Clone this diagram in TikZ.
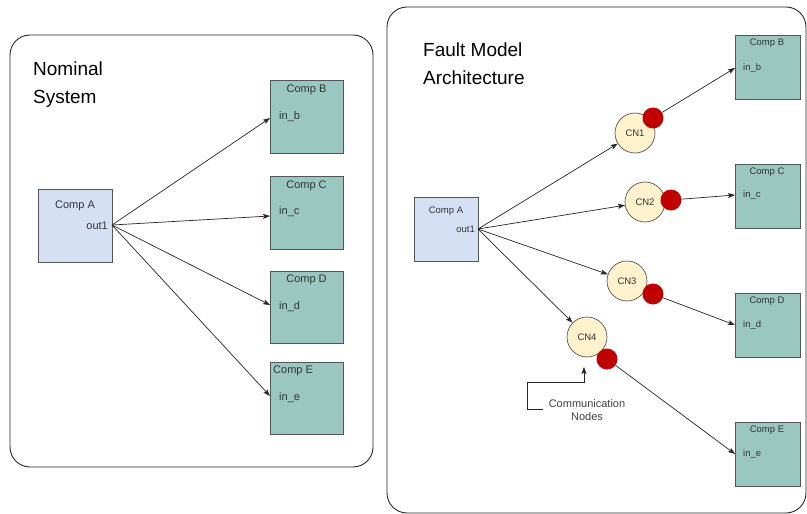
\documentclass[tikz,border=0pt]{standalone}
\usepackage{fontspec}
\setmainfont{Liberation Sans}
\usetikzlibrary{arrows.meta}
\definecolor{compblue}{HTML}{D4E1F5}
\definecolor{compteal}{HTML}{9AC7BF}
\definecolor{cnfill}{HTML}{FFF2CC}
\definecolor{reddot}{HTML}{C00000}
\definecolor{txtgray}{HTML}{333333}
\definecolor{edgegray}{HTML}{555555}
\begin{document}
\begin{tikzpicture}[x=1pt,y=-1pt,
  panel/.style={draw=black!85,line width=0.9pt,rounded corners=20pt},
  title/.style={font=\fontsize{19}{28}\selectfont,align=left,anchor=north west,inner sep=0pt},
  bluebox/.style={draw=edgegray,fill=compblue,line width=0.8pt,minimum width=#1,minimum height=#1,inner sep=0pt},
  tealbox/.style={draw=edgegray,fill=compteal,line width=0.8pt,minimum width=#1,minimum height=#1,inner sep=0pt},
  lbl/.style={font=\fontsize{11}{13}\selectfont,text=txtgray,inner sep=0pt},
  slbl/.style={font=\fontsize{9.5}{11}\selectfont,text=txtgray,inner sep=0pt},
  cn/.style={circle,draw=edgegray,fill=cnfill,line width=0.7pt,minimum size=40pt,inner sep=0pt,font=\fontsize{9.5}{11}\selectfont,text=txtgray},
  dot/.style={circle,fill=reddot,minimum size=21pt,inner sep=0pt},
  conn/.style={draw=black!85,line width=0.7pt,-{Stealth[length=7pt,width=5pt,inset=1.5pt]}},
  plain/.style={draw=black!85,line width=0.7pt}
]
\useasboundingbox (0,0) rectangle (807,514);
\fill[white] (0,0) rectangle (807,514);

% ---------- Left panel ----------
\draw[panel] (10,35) rectangle (373,467);
\node[title] (t1) at (33,62) {Nominal\\System};

\node[bluebox=73pt,minimum width=74pt] (A) at (75,225.5) {};
\node[lbl] (Alab) at (75,206) {Comp A};
\node[lbl,anchor=east] (Aout1) at (108,226) {out1};
\coordinate (Ao) at (112,225);

\node[tealbox=73pt] (B) at (306.5,116.5) {};
\node[tealbox=73pt] (C) at (306.5,212.5) {};
\node[tealbox=73pt,minimum height=72pt] (D) at (306.5,307) {};
\node[tealbox=73pt,minimum height=72pt] (E) at (306.5,398) {};
\node[lbl] (Blab) at (306.5,90) {Comp B};
\node[lbl] (Clab) at (306.5,186) {Comp C};
\node[lbl] (Dlab) at (306.5,280) {Comp D};
\node[lbl,anchor=west] (Elab) at (273,371) {Comp E};
\node[lbl,anchor=west] (inb) at (279,117) {in\_b};
\node[lbl,anchor=west] (inc) at (279,212) {in\_c};
\node[lbl,anchor=west] (ind) at (279,307) {in\_d};
\node[lbl,anchor=west] (ine) at (279,398) {in\_e};
\coordinate (Bi) at (270,118);
\coordinate (Ci) at (270,216);
\coordinate (Di) at (270,305);
\coordinate (Ei) at (270,396);
\draw[conn] (Ao) -- (Bi);
\draw[conn] (Ao) -- (Ci);
\draw[conn] (Ao) -- (Di);
\draw[conn] (Ao) -- (Ei);

% ---------- Right panel ----------
\draw[panel] (387,7) rectangle (806,513);
\node[title] (t2) at (423,43) {Fault Model\\Architecture};

\node[bluebox=64pt] (A2) at (446,229) {};
\node[slbl] (A2lab) at (446,211) {Comp A};
\node[slbl,anchor=east] (A2out1) at (475,229) {out1};
\coordinate (A2o) at (478,229);

\node[tealbox=64pt,minimum width=65pt] (B2) at (767.5,67) {};
\node[tealbox=64pt,minimum width=65pt] (C2) at (767.5,196.5) {};
\node[tealbox=64pt,minimum width=65pt] (D2) at (767.5,325) {};
\node[tealbox=64pt,minimum width=65pt] (E2) at (767.5,454) {};
\node[slbl] (B2lab) at (767,43) {Comp B};
\node[slbl] (C2lab) at (767,172) {Comp C};
\node[slbl] (D2lab) at (767,301) {Comp D};
\node[slbl] (E2lab) at (767,430) {Comp E};
\node[slbl,anchor=west] (inb2) at (743,68) {in\_b};
\node[slbl,anchor=west] (inc2) at (743,195) {in\_c};
\node[slbl,anchor=west] (ind2) at (743,325) {in\_d};
\node[slbl,anchor=west] (ine2) at (743,454) {in\_e};
\coordinate (B2i) at (735,68);
\coordinate (C2i) at (735,195);
\coordinate (D2i) at (735,325);
\coordinate (E2i) at (735,454);

\node[cn] (CN1) at (635,133) {CN1};
\node[cn] (CN2) at (645,202) {CN2};
\node[cn] (CN3) at (627,281) {CN3};
\node[cn] (CN4) at (587,337) {CN4};
\node[dot] (R1) at (653,118) {};
\node[dot] (R2) at (671,200) {};
\node[dot] (R3) at (653,294) {};
\node[dot] (R4) at (607,359) {};

\draw[conn] (A2o) -- (CN1);
\draw[conn] (A2o) -- (CN2);
\draw[conn] (A2o) -- (CN3);
\draw[conn] (A2o) -- (CN4);
\draw[conn] (R1) -- (B2i);
\draw[conn] (R2) -- (C2i);
\draw[conn] (R3) -- (D2i);
\draw[conn] (R4) -- (E2i);

% annotation
\node[font=\fontsize{11}{13}\selectfont,text=black!75,align=center,inner sep=0pt] (note) at (587,410.5) {Communication\\Nodes};
\coordinate (n0) at (543,409);
\coordinate (n1) at (584,367);
\draw[conn] (n0) -- (527,409) -- (527,382) -- (584,382) -- (n1);
\end{tikzpicture}
\end{document}
